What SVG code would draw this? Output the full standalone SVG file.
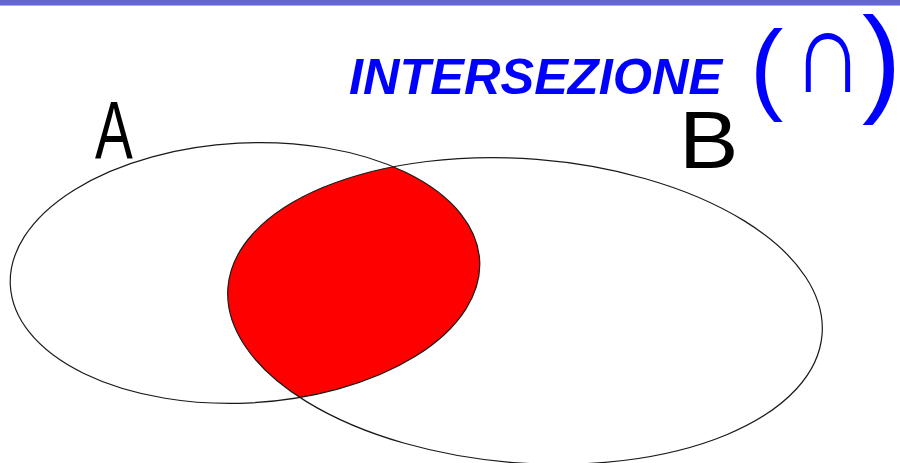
<svg xmlns="http://www.w3.org/2000/svg" width="900" height="463" viewBox="0 0 900 463">
<style>
.outline{fill:none;stroke:#1a1a1a;stroke-width:1.2}
.title{font-family:"Liberation Sans",Arial,sans-serif;font-weight:bold;font-style:italic;fill:#0000ff}
.hand{font-family:"Liberation Sans",Arial,sans-serif;fill:#000}
.sym{font-family:"Liberation Sans","DejaVu Sans",sans-serif;fill:#0000ff}
</style>
<defs>
<clipPath id="clipB"><ellipse cx="525" cy="311" rx="298" ry="152" transform="rotate(4.5 525 311)"/></clipPath>
</defs>
<rect x="0" y="0" width="900" height="463" fill="#fff"/>
<rect x="0" y="0" width="900" height="5" fill="#6565d4"/>
<rect x="0" y="5" width="900" height="1" fill="#aaaae8"/>
<g id="intersection" clip-path="url(#clipB)">
<ellipse cx="245" cy="273" rx="235" ry="130" transform="rotate(-3 245 273)" fill="#ff0000"/>
</g>
<g id="connectors"></g>
<g id="setA">
<ellipse class="outline" cx="245" cy="273" rx="235" ry="130" transform="rotate(-3 245 273)"/>
<text class="hand" transform="translate(95,158) scale(0.7,1)" font-size="81">A</text>
</g>
<g id="setB">
<ellipse class="outline" cx="525" cy="311" rx="298" ry="152" transform="rotate(4.5 525 311)"/>
<text class="hand" transform="translate(679,168) scale(1.1,1)" font-size="81">B</text>
</g>
<g id="title">
<text class="title" x="349" y="94" font-size="50.5">INTERSEZIONE</text>
<text class="sym" x="750" y="101" font-size="100">(</text>
<text class="sym" transform="translate(828,92) scale(0.85,1)" font-size="117" font-family="DejaVu Sans, sans-serif" text-anchor="middle">∩</text>
<text class="sym" x="862" y="100" font-size="118">)</text>
</g>
</svg>
